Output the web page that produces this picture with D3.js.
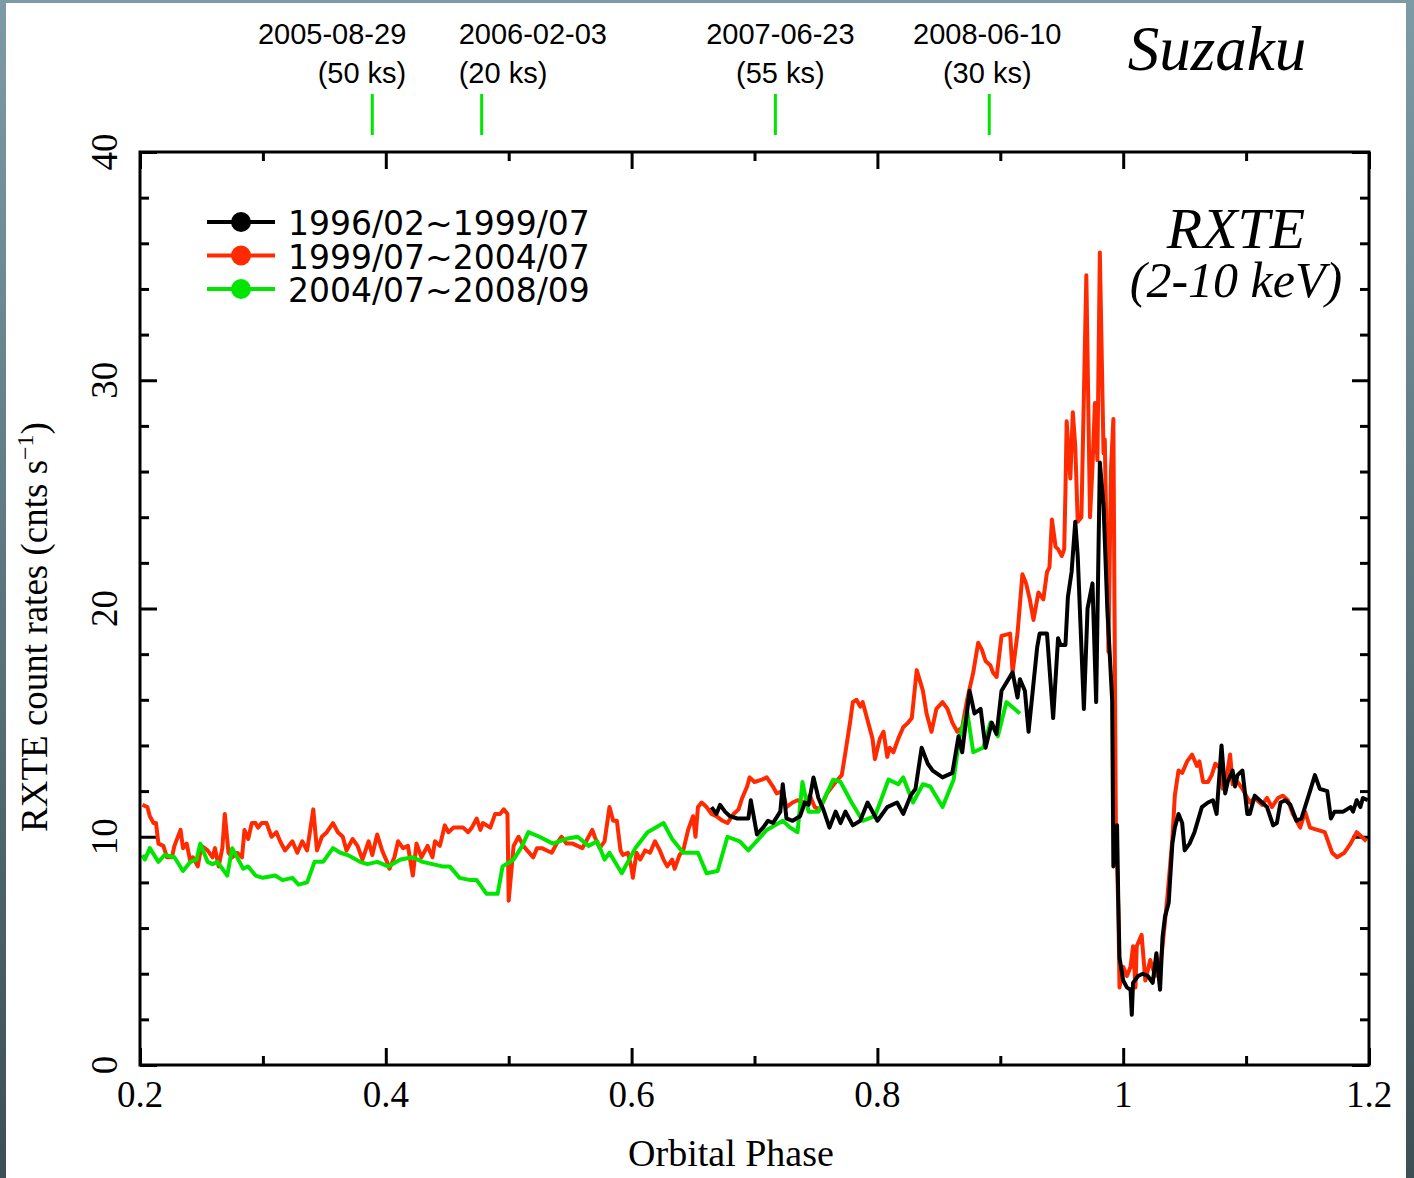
<!DOCTYPE html>
<html>
<head>
<meta charset="utf-8">
<script src="https://cdn.jsdelivr.net/npm/d3@7/dist/d3.min.js"></script>
<style>
  html, body { margin: 0; padding: 0; }
  body { width: 1414px; height: 1178px; overflow: hidden; }
  svg { display: block; }
</style>
</head>
<body>
<svg id="chart" width="1414" height="1178"></svg>
<script>
// RXTE 2-10 keV light curves folded on orbital phase, three epochs.
const seriesNames = ["1996/02~1999/07", "1999/07~2004/07", "2004/07~2008/09"];
const seriesColors = ["#000000", "#ff2a00", "#00e600"];

// [orbital phase, count rate]
const epoch1 = [
  [0.665,11.3],[0.669,11.0],[0.672,11.4],[0.676,11.1],[0.680,10.9],[0.686,10.8],[0.695,10.8],[0.697,11.6],
  [0.702,10.1],[0.707,10.4],[0.711,10.7],[0.715,10.6],[0.721,11.1],[0.723,12.3],[0.726,10.8],[0.731,10.7],
  [0.737,10.9],[0.741,11.5],[0.744,11.4],[0.748,12.6],[0.752,11.7],[0.756,11.2],[0.761,10.4],[0.766,11.1],
  [0.770,10.6],[0.774,11.1],[0.780,10.5],[0.786,10.7],[0.792,11.5],[0.800,10.7],[0.808,11.3],[0.816,11.5],
  [0.821,11.0],[0.827,11.8],[0.831,12.1],[0.836,13.9],[0.841,13.2],[0.845,12.9],[0.853,12.6],[0.861,12.8],
  [0.866,14.4],[0.869,13.7],[0.875,16.4],[0.879,15.4],[0.884,15.6],[0.888,13.9],[0.893,15.0],[0.897,14.5],
  [0.901,16.4],[0.910,17.2],[0.914,16.1],[0.916,16.9],[0.920,16.4],[0.923,14.6],[0.930,18.3],[0.932,18.9],
  [0.938,18.9],[0.943,15.2],[0.947,18.7],[0.949,18.4],[0.953,18.4],[0.955,20.5],[0.958,21.6],[0.961,23.8],
  [0.963,22.3],[0.968,15.6],[0.971,20.0],[0.975,21.1],[0.978,15.9],[0.981,26.4],[0.984,24.5],[0.987,20.1],
  [0.991,16.0],[0.992,8.7],[0.995,10.5],[0.996,7.2],[0.997,4.7],[1.000,3.7],[1.003,3.4],[1.006,3.3],
  [1.007,2.2],[1.008,3.6],[1.012,3.9],[1.016,4.0],[1.020,3.9],[1.024,3.6],[1.027,4.9],[1.030,3.3],
  [1.032,5.6],[1.034,6.5],[1.037,7.1],[1.040,9.7],[1.042,10.4],[1.045,11.0],[1.048,10.6],[1.050,9.4],
  [1.054,9.7],[1.058,10.2],[1.064,11.3],[1.069,11.5],[1.073,11.6],[1.076,11.0],[1.080,14.0],[1.083,11.9],
  [1.085,12.4],[1.089,12.9],[1.091,12.2],[1.093,12.7],[1.097,12.9],[1.101,11.0],[1.103,11.0],[1.107,11.8],
  [1.113,11.5],[1.117,11.3],[1.122,10.5],[1.125,10.6],[1.128,11.5],[1.132,11.6],[1.136,11.4],[1.141,10.7],
  [1.145,10.8],[1.152,12.0],[1.156,12.7],[1.160,12.1],[1.166,12.0],[1.169,10.8],[1.172,11.1],[1.179,11.1],
  [1.185,11.3],[1.187,11.1],[1.190,11.6],[1.193,11.3],[1.195,11.7],[1.199,11.6]
];

const epoch2 = [
  [0.202,11.4],[0.206,11.3],[0.208,10.9],[0.211,10.6],[0.213,10.6],[0.215,9.7],[0.219,9.6],[0.222,9.1],
  [0.226,9.1],[0.228,9.6],[0.233,10.3],[0.235,9.5],[0.238,9.7],[0.241,8.9],[0.243,9.1],[0.247,8.7],
  [0.250,9.6],[0.255,9.4],[0.259,9.1],[0.261,9.5],[0.264,8.7],[0.267,9.5],[0.269,11.0],[0.272,9.3],
  [0.275,9.1],[0.279,9.3],[0.283,9.1],[0.285,10.3],[0.288,9.9],[0.291,10.6],[0.294,10.6],[0.296,10.4],
  [0.299,10.6],[0.303,10.6],[0.307,10.0],[0.311,10.2],[0.314,9.8],[0.318,9.4],[0.324,9.8],[0.328,9.3],
  [0.332,9.8],[0.336,9.4],[0.341,11.2],[0.344,9.4],[0.348,10.0],[0.352,10.2],[0.357,10.6],[0.361,10.2],
  [0.365,10.0],[0.368,9.4],[0.373,9.9],[0.377,9.6],[0.381,9.0],[0.386,9.8],[0.389,9.2],[0.393,10.1],
  [0.397,9.4],[0.401,8.9],[0.403,8.6],[0.407,9.1],[0.410,9.8],[0.414,9.5],[0.418,9.6],[0.422,8.3],
  [0.425,9.7],[0.429,9.1],[0.434,9.6],[0.438,9.1],[0.440,9.8],[0.444,9.6],[0.448,10.5],[0.451,10.2],
  [0.455,10.4],[0.463,10.4],[0.467,10.2],[0.470,10.4],[0.474,10.8],[0.477,10.3],[0.479,10.6],[0.485,10.4],
  [0.489,11.0],[0.493,11.0],[0.496,11.2],[0.499,11.0],[0.500,7.2],[0.504,9.6],[0.508,10.0],[0.512,9.6],
  [0.515,9.4],[0.520,9.1],[0.523,9.5],[0.527,9.5],[0.531,9.4],[0.535,9.3],[0.539,9.7],[0.543,10.0],
  [0.547,9.7],[0.552,9.7],[0.556,9.6],[0.560,9.5],[0.564,9.9],[0.568,10.3],[0.570,10.0],[0.574,9.5],
  [0.578,9.8],[0.582,11.3],[0.585,10.7],[0.588,10.7],[0.591,9.4],[0.593,9.2],[0.597,9.3],[0.600,8.6],
  [0.601,8.2],[0.604,9.3],[0.607,9.0],[0.611,9.4],[0.615,9.3],[0.619,9.8],[0.623,9.4],[0.626,9.0],
  [0.629,8.7],[0.633,9.0],[0.635,8.6],[0.639,9.2],[0.642,9.4],[0.646,10.3],[0.650,10.9],[0.652,10.0],
  [0.654,11.3],[0.657,11.5],[0.661,11.3],[0.665,11.0],[0.669,10.9],[0.674,10.7],[0.678,10.6],[0.683,11.0],
  [0.687,11.2],[0.690,11.7],[0.694,12.2],[0.696,12.6],[0.700,12.4],[0.706,12.5],[0.710,12.6],[0.715,12.2],
  [0.718,11.9],[0.723,12.0],[0.726,11.3],[0.731,11.5],[0.735,11.6],[0.741,11.5],[0.745,11.8],[0.749,11.3],
  [0.753,11.2],[0.759,11.9],[0.766,12.4],[0.771,12.7],[0.774,13.7],[0.778,15.1],[0.780,15.9],[0.783,16.0],
  [0.786,15.7],[0.788,15.9],[0.792,15.1],[0.796,14.3],[0.798,13.4],[0.802,14.3],[0.805,14.6],[0.808,13.5],
  [0.810,13.9],[0.813,13.7],[0.817,14.3],[0.821,14.8],[0.825,15.0],[0.828,15.2],[0.832,17.3],[0.837,16.4],
  [0.840,15.4],[0.844,14.6],[0.848,15.6],[0.853,15.9],[0.857,15.6],[0.861,15.0],[0.865,14.6],[0.869,14.8],
  [0.873,16.0],[0.878,17.2],[0.882,18.5],[0.885,18.2],[0.888,17.7],[0.892,17.5],[0.894,17.2],[0.897,17.0],
  [0.901,18.8],[0.908,18.9],[0.910,17.2],[0.914,18.9],[0.918,21.5],[0.921,21.1],[0.924,20.4],[0.927,19.5],
  [0.931,20.7],[0.935,20.4],[0.938,21.6],[0.940,21.8],[0.942,23.9],[0.945,22.7],[0.947,22.6],[0.950,22.3],
  [0.952,22.6],[0.953,25.1],[0.954,28.2],[0.957,25.7],[0.959,28.6],[0.961,27.1],[0.963,23.8],[0.966,24.0],
  [0.970,34.6],[0.973,24.0],[0.975,26.2],[0.977,29.0],[0.979,26.5],[0.981,35.6],[0.984,26.8],[0.985,27.4],
  [0.988,18.1],[0.990,26.0],[0.992,28.3],[0.994,10.7],[0.996,6.9],[0.997,3.4],[1.000,4.3],[1.003,3.9],
  [1.006,4.3],[1.008,5.2],[1.010,3.4],[1.011,5.2],[1.015,5.7],[1.018,3.7],[1.022,4.6],[1.026,3.9],
  [1.030,4.3],[1.032,5.2],[1.036,7.4],[1.040,9.9],[1.042,11.8],[1.045,12.9],[1.048,12.8],[1.052,13.3],
  [1.056,13.6],[1.060,13.1],[1.062,13.3],[1.065,12.4],[1.069,12.4],[1.072,12.7],[1.075,13.2],[1.079,13.0],
  [1.081,12.1],[1.084,12.6],[1.087,13.6],[1.089,12.3],[1.093,12.4],[1.097,12.1],[1.103,11.5],[1.107,11.7],
  [1.113,11.4],[1.117,11.7],[1.121,11.3],[1.126,11.7],[1.130,11.8],[1.134,11.6],[1.138,11.0],[1.144,10.4],
  [1.148,11.1],[1.152,10.4],[1.158,10.3],[1.164,10.2],[1.170,9.3],[1.174,9.1],[1.180,9.3],[1.185,9.7],
  [1.190,10.2],[1.194,10.0],[1.198,9.8]
];

const epoch3 = [
  [0.202,9.2],[0.204,9.0],[0.208,9.5],[0.215,8.9],[0.220,9.2],[0.228,9.1],[0.235,8.5],[0.241,8.9],
  [0.246,9.0],[0.249,9.7],[0.255,8.9],[0.259,8.8],[0.263,8.9],[0.271,8.3],[0.275,9.5],[0.281,8.9],
  [0.284,8.6],[0.288,8.7],[0.294,8.3],[0.300,8.2],[0.310,8.3],[0.316,8.1],[0.324,8.2],[0.329,7.9],
  [0.336,8.0],[0.342,8.9],[0.349,8.9],[0.357,9.5],[0.363,9.3],[0.369,9.2],[0.379,8.9],[0.385,8.8],
  [0.393,8.9],[0.402,8.7],[0.412,9.0],[0.422,9.1],[0.430,8.9],[0.446,8.7],[0.452,8.7],[0.460,8.2],
  [0.469,8.1],[0.474,8.1],[0.482,7.5],[0.491,7.5],[0.495,8.7],[0.504,9.0],[0.511,9.6],[0.516,10.2],
  [0.525,10.0],[0.536,9.7],[0.546,9.9],[0.556,10.0],[0.565,9.6],[0.572,9.8],[0.578,9.0],[0.582,9.3],
  [0.592,8.4],[0.603,9.5],[0.613,10.2],[0.626,10.6],[0.633,9.9],[0.642,9.3],[0.654,9.3],[0.661,8.4],
  [0.670,8.5],[0.678,10.0],[0.688,9.8],[0.695,9.4],[0.710,10.3],[0.723,10.7],[0.729,10.4],[0.735,10.2],
  [0.739,12.4],[0.744,11.1],[0.752,11.1],[0.764,12.5],[0.770,12.4],[0.779,11.5],[0.788,10.7],[0.798,10.9],
  [0.809,12.5],[0.817,12.3],[0.821,12.6],[0.829,11.5],[0.837,12.3],[0.843,12.2],[0.853,11.3],[0.862,12.5],
  [0.867,14.4],[0.873,15.5],[0.878,13.7],[0.886,13.9],[0.892,15.0],[0.898,14.4],[0.905,15.9],[0.916,15.4]
];

// Suzaku pointings: phase, date, exposure
const obsPhases = [0.389, 0.478, 0.717, 0.891];
const obsDates = ["2005-08-29", "2006-02-03", "2007-06-23", "2008-06-10"];
const obsExposures = ["(50 ks)", "(20 ks)", "(55 ks)", "(30 ks)"];
const obsAnchors = ["end", "start", "middle", "middle"];
const obsOffsets = [34, -23, 5, -2];

const xMajorTicks = [0.2, 0.4, 0.6, 0.8, 1.0, 1.2];
const xMinorTicks = [0.3, 0.5, 0.7, 0.9, 1.1];
const yMajorTicks = [0, 10, 20, 30, 40];
const yMinorTicks = [2, 4, 6, 8, 12, 14, 16, 18, 22, 24, 26, 28, 32, 34, 36, 38];

const svg = d3.select("#chart");
const W = 1414, H = 1178;
const margin = { left: 140, right: 45, top: 152, bottom: 113 };
const plotW = W - margin.left - margin.right;
const plotH = H - margin.top - margin.bottom;

// slate backdrop behind the white sheet
const defs = svg.append("defs");
const grad = defs.append("linearGradient").attr("id", "bg").attr("x1", 0).attr("y1", 0).attr("x2", 0).attr("y2", 1);
grad.append("stop").attr("offset", "0%").attr("stop-color", "#7d9ba6");
grad.append("stop").attr("offset", "100%").attr("stop-color", "#3c4f55");
svg.append("rect").attr("width", W).attr("height", H).attr("fill", "url(#bg)");
svg.append("rect").attr("x", 6).attr("y", 3).attr("width", 1400).attr("height", H - 3).attr("fill", "#ffffff");

defs.append("clipPath").attr("id", "plotClip").append("rect")
  .attr("x", 0).attr("y", 0).attr("width", plotW).attr("height", plotH);

const x = d3.scaleLinear().domain([0.2, 1.2]).range([0, plotW]);
const y = d3.scaleLinear().domain([0, 40]).range([plotH, 0]);

const g = svg.append("g").attr("transform", `translate(${margin.left},${margin.top})`);

// ticks on all four sides, pointing inward
const tickStroke = sel => sel.selectAll("line").attr("stroke", "#000").attr("stroke-width", 3);
function tickAxis(axisFn, scale, values, size, transform) {
  const a = g.append("g").attr("transform", transform)
    .call(axisFn(scale).tickValues(values).tickSize(size).tickFormat(""));
  a.select(".domain").remove();
  a.call(tickStroke);
  return a;
}
tickAxis(d3.axisTop, x, xMajorTicks, 17, `translate(0,${plotH})`);
tickAxis(d3.axisTop, x, xMinorTicks, 9, `translate(0,${plotH})`);
tickAxis(d3.axisBottom, x, xMajorTicks, 17, `translate(0,0)`);
tickAxis(d3.axisBottom, x, xMinorTicks, 9, `translate(0,0)`);
tickAxis(d3.axisRight, y, yMajorTicks, 17, `translate(0,0)`);
tickAxis(d3.axisRight, y, yMinorTicks, 9, `translate(0,0)`);
tickAxis(d3.axisLeft, y, yMajorTicks, 17, `translate(${plotW},0)`);
tickAxis(d3.axisLeft, y, yMinorTicks, 9, `translate(${plotW},0)`);

// tick labels
const fmt = d => String(+d.toFixed(1));
g.append("g").selectAll("text").data(xMajorTicks).join("text")
  .attr("x", d => x(d)).attr("y", plotH + 42)
  .attr("text-anchor", "middle")
  .attr("font-family", "'Liberation Serif', 'Times New Roman', serif")
  .attr("font-size", 37).attr("fill", "#000")
  .text(fmt);
g.append("g").selectAll("text").data(yMajorTicks).join("text")
  .attr("transform", d => `translate(-23,${y(d)}) rotate(-90)`)
  .attr("text-anchor", "middle")
  .attr("font-family", "'Liberation Serif', 'Times New Roman', serif")
  .attr("font-size", 37).attr("fill", "#000")
  .text(d => d);

// axis titles
svg.append("text")
  .attr("x", 731).attr("y", 1166)
  .attr("text-anchor", "middle")
  .attr("font-family", "'Liberation Serif', 'Times New Roman', serif")
  .attr("font-size", 38).attr("fill", "#000")
  .text("Orbital Phase");
const yTitle = svg.append("text")
  .attr("transform", `translate(47,627) rotate(-90)`)
  .attr("text-anchor", "middle")
  .attr("font-family", "'Liberation Serif', 'Times New Roman', serif")
  .attr("font-size", 37).attr("fill", "#000");
yTitle.append("tspan").text("RXTE count rates (cnts s");
yTitle.append("tspan").attr("dy", -14).attr("font-size", 24).text("−1");
yTitle.append("tspan").attr("dy", 14).text(")");

// light curves
const line = d3.line().x(d => x(d[0])).y(d => y(d[1]));
const curves = g.append("g").attr("clip-path", "url(#plotClip)");
[[epoch2, seriesColors[1]], [epoch3, seriesColors[2]], [epoch1, seriesColors[0]]].forEach(([data, color]) => {
  curves.append("path").datum(data)
    .attr("d", line)
    .attr("fill", "none")
    .attr("stroke", color)
    .attr("stroke-width", 4)
    .attr("stroke-linejoin", "round");
});

// frame
g.append("rect").attr("x", 0).attr("y", 0).attr("width", plotW).attr("height", plotH)
  .attr("fill", "none").attr("stroke", "#000").attr("stroke-width", 3);

// legend: symbols per row, labels as one stacked text block
const legend = g.append("g").attr("transform", "translate(67,70)");
const rowGap = 33.5;
seriesNames.forEach((name, i) => {
  const row = legend.append("g").attr("transform", `translate(0,${i * rowGap})`);
  row.append("line").attr("x1", 0).attr("x2", 68).attr("y1", 0).attr("y2", 0)
    .attr("stroke", seriesColors[i]).attr("stroke-width", 4);
  row.append("circle").attr("cx", 34).attr("cy", 0).attr("r", 10).attr("fill", seriesColors[i]);
});
const legendText = legend.append("text").attr("x", 81).attr("y", 13)
  .attr("font-family", "'DejaVu Sans', sans-serif")
  .attr("font-size", 33).attr("fill", "#000");
seriesNames.forEach((name, i) => {
  legendText.append("tspan").attr("x", 81).attr("dy", i === 0 ? 0 : rowGap).text(name);
});

// Suzaku observation markers above the frame
const obs = svg.append("g");
obsPhases.forEach((p, i) => {
  const px = margin.left + x(p);
  obs.append("line").attr("x1", px).attr("x2", px).attr("y1", 94).attr("y2", 135)
    .attr("stroke", "#00e600").attr("stroke-width", 3);
  const tx = px + obsOffsets[i];
  obs.append("text").attr("x", tx).attr("y", 44)
    .attr("text-anchor", obsAnchors[i])
    .attr("font-family", "'Liberation Sans', sans-serif")
    .attr("font-size", 29).attr("fill", "#000")
    .text(obsDates[i]);
  obs.append("text").attr("x", tx).attr("y", 83)
    .attr("text-anchor", obsAnchors[i])
    .attr("font-family", "'Liberation Sans', sans-serif")
    .attr("font-size", 29).attr("fill", "#000")
    .text(obsExposures[i]);
});

// instrument captions
svg.append("text").attr("x", 1217).attr("y", 70)
  .attr("text-anchor", "middle")
  .attr("font-family", "'Liberation Serif', serif").attr("font-style", "italic")
  .attr("font-size", 63).attr("fill", "#000")
  .text("Suzaku");
svg.append("text").attr("x", 1236).attr("y", 248)
  .attr("text-anchor", "middle")
  .attr("font-family", "'Liberation Serif', serif").attr("font-style", "italic")
  .attr("font-size", 58).attr("fill", "#000")
  .text("RXTE");
svg.append("text").attr("x", 1236).attr("y", 297)
  .attr("text-anchor", "middle")
  .attr("font-family", "'Liberation Serif', serif").attr("font-style", "italic")
  .attr("font-size", 50).attr("fill", "#000")
  .text("(2-10 keV)");
</script>
</body>
</html>
